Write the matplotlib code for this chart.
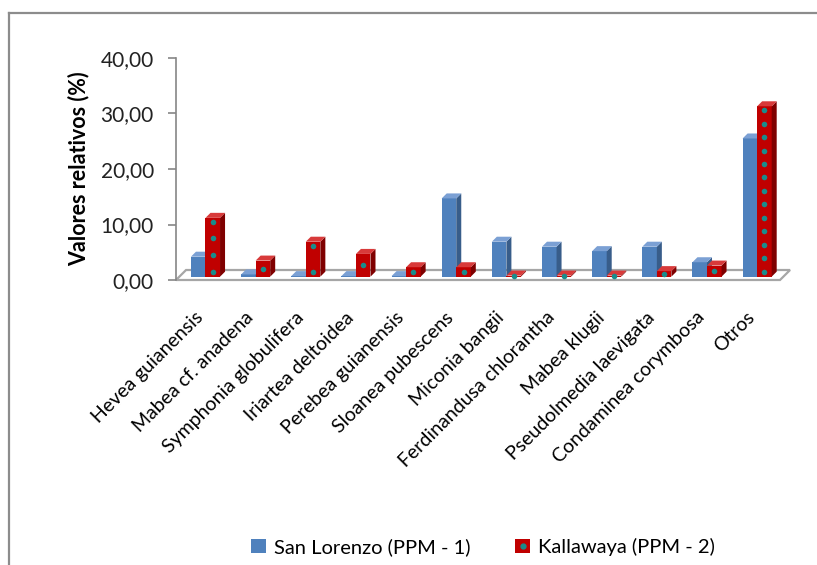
import matplotlib
matplotlib.use("Agg")
import matplotlib.pyplot as plt
from matplotlib.patches import Polygon, Rectangle
from matplotlib.lines import Line2D
from matplotlib.legend_handler import HandlerTuple
import matplotlib.transforms as mtransforms

plt.rcParams['font.family'] = ['Lato', 'DejaVu Sans']

especies = ["Hevea guianensis", "Mabea cf. anadena", "Symphonia globulifera",
            "Iriartea deltoidea", "Perebea guianensis", "Sloanea pubescens",
            "Miconia bangii", "Ferdinandusa chlorantha", "Mabea klugii",
            "Pseudolmedia laevigata", "Condaminea corymbosa", "Otros"]
san_lorenzo = [3.6, 0.4, 0.1, 0.1, 0.1, 14.1, 6.3, 5.4, 4.6, 5.4, 2.6, 24.9]
kallawaya = [10.6, 2.9, 6.3, 4.1, 1.7, 1.7, 0.2, 0.2, 0.2, 1.0, 2.0, 30.7]
yticks = [0, 10, 20, 30, 40]

azul, azul_lado, azul_top = "#4F81BD", "#385D8A", "#7BA0D4"
rojo, rojo_lado, rojo_top = "#C00000", "#7F0000", "#D83A3A"
punto = "#1A8C8C"

W, H = 817, 565
fig = plt.figure(figsize=(W / 100, H / 100), dpi=100)
# plot area in pixels: x 176..795, y 0 -> 280px, 40 -> 58px
ax = fig.add_axes([176 / W, (H - 280) / H, (795 - 176) / W, (280 - 58) / H])
ax.set_xlim(-0.588, 11.755)
ax.set_ylim(0, 40)

bw = 0.29      # bar width in category units
dx, dy = 0.1, 0.9   # 3d depth of bars
base = 0.6

# floor
fdx, fdy = 0.2, 1.8
floor = Polygon([(-0.588, 0), (11.456, 0), (11.456 + fdx, fdy), (-0.588 + fdx, fdy)],
                closed=True, facecolor="white", edgecolor="#A6A6A6", lw=1.6,
                clip_on=False, zorder=1)
ax.add_patch(floor)


def barra(x0, h, c, c_lado, c_top):
    ax.bar(x0, h, width=bw, bottom=base, align="edge", color=c, zorder=3)
    x1 = x0 + bw
    top = base + h
    ax.add_patch(Polygon([(x1, base), (x1 + dx, base + dy), (x1 + dx, top + dy), (x1, top)],
                         closed=True, facecolor=c_lado, lw=0, zorder=3, clip_on=False))
    ax.add_patch(Polygon([(x0, top), (x0 + dx, top + dy), (x1 + dx, top + dy), (x1, top)],
                         closed=True, facecolor=c_top, lw=0, zorder=3, clip_on=False))


for i in range(len(especies)):
    barra(i - bw, san_lorenzo[i], azul, azul_lado, azul_top)
    barra(i, kallawaya[i], rojo, rojo_lado, rojo_top)
    # dotted pattern on red bars
    h = kallawaya[i]
    n = int(h / 2.2)
    if n > 1:
        ys = [base + 0.9 + k * (h - 1.6) / (n - 1) for k in range(n)]
    else:
        ys = [base + h / 2]
    ax.scatter([i + bw / 2] * len(ys), ys, s=16, color=punto, zorder=4, lw=0, clip_on=False)

ax.set_xticks(range(len(especies)))
ax.set_xticklabels(especies, rotation=45, ha="right", va="center",
                   rotation_mode="anchor", fontsize=14)
ax.tick_params(axis="x", length=0, pad=25)
shift = mtransforms.ScaledTranslation(-5 / 100, 0, fig.dpi_scale_trans)
for lbl in ax.get_xticklabels():
    lbl.set_transform(lbl.get_transform() + shift)
ax.set_yticks(yticks)
ax.set_yticklabels([f"{v:.2f}".replace(".", ",") for v in yticks], fontsize=15, color="#222222")
ax.tick_params(axis="y", length=6, color="#868686", width=1.2, pad=10)
for s in ["top", "right", "bottom"]:
    ax.spines[s].set_visible(False)
ax.spines["left"].set_color("#868686")
ax.spines["left"].set_linewidth(1.2)
ax.set_ylabel("Valores relativos (%)", fontsize=15.5, fontweight="bold", labelpad=8)

# legend
h_azul = Rectangle((0, 0), 1, 1, facecolor=azul)
h_rojo = (Rectangle((0, 0), 1, 1, facecolor=rojo),
          Line2D([], [], marker="o", color=punto, ms=3.5, ls=""))
fig.legend([h_azul, h_rojo], ["San Lorenzo (PPM - 1)", "Kallawaya (PPM - 2)"],
           handler_map={tuple: HandlerTuple(ndivide=1)}, numpoints=1,
           loc="center", bbox_to_anchor=(483 / W, 1 - 547 / H), ncol=2, frameon=False,
           fontsize=14.5, handlelength=0.75, handleheight=0.75, handletextpad=0.4,
           columnspacing=2.2)

# chart border
fig.add_artist(Line2D([9 / W, 1], [1 - 13 / H, 1 - 13 / H], color="#8C8C8C", lw=1.6))
fig.add_artist(Line2D([9 / W, 9 / W], [1 - 13 / H, 0], color="#8C8C8C", lw=1.6))

fig.savefig("out.png", dpi=100)
